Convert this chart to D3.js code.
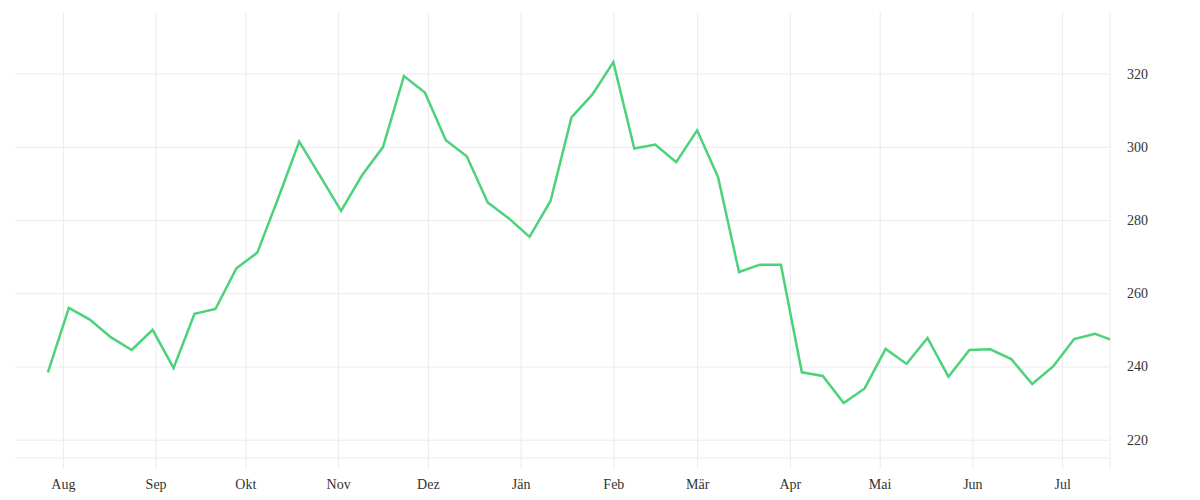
<!DOCTYPE html>
<html>
<head>
<meta charset="utf-8">
<script src="https://cdn.jsdelivr.net/npm/d3@7"></script>
<style>
  html, body { margin: 0; padding: 0; background: #fff; }
  svg { display: block; }
  .tick text { font-family: "Liberation Serif", serif; font-size: 14px; fill: #333; }
</style>
</head>
<body>
<svg id="chart" width="1200" height="500"></svg>
<script>
// ---- data ----
const dates = [
  "2022-07-27","2022-08-03","2022-08-10","2022-08-17","2022-08-24","2022-08-31",
  "2022-09-07","2022-09-14","2022-09-21","2022-09-28","2022-10-05","2022-10-12",
  "2022-10-19","2022-10-26","2022-11-02","2022-11-09","2022-11-16","2022-11-23",
  "2022-11-30","2022-12-07","2022-12-14","2022-12-21","2022-12-28","2023-01-04",
  "2023-01-11","2023-01-18","2023-01-25","2023-02-01","2023-02-08","2023-02-15",
  "2023-02-22","2023-03-01","2023-03-08","2023-03-15","2023-03-22","2023-03-29",
  "2023-04-05","2023-04-12","2023-04-19","2023-04-26","2023-05-03","2023-05-10",
  "2023-05-17","2023-05-24","2023-05-31","2023-06-07","2023-06-14","2023-06-21",
  "2023-06-28","2023-07-05","2023-07-12","2023-07-17"
];
const values = [
  238.4, 256.0, 252.8, 248.0, 244.5, 250.0,
  239.6, 254.4, 255.7, 266.8, 271.1, 286.0,
  301.4, 292.0, 282.5, 292.2, 299.9, 319.3,
  314.8, 301.8, 297.4, 284.8, 280.5, 275.4,
  285.2, 308.0, 314.3, 323.1, 299.5, 300.6,
  295.8, 304.5, 291.7, 265.8, 267.8, 267.8,
  238.4, 237.4, 230.0, 234.0, 244.8, 240.7,
  247.8, 237.2, 244.5, 244.7, 242.0, 235.2,
  240.0, 247.5, 248.9, 247.4
];
const monthTicks = ["2022-08-01","2022-09-01","2022-10-01","2022-11-01","2022-12-01","2023-01-01",
                    "2023-02-01","2023-03-01","2023-04-01","2023-05-01","2023-06-01","2023-07-01"];
const monthLabels = ["Aug","Sep","Okt","Nov","Dez","Jän","Feb","Mär","Apr","Mai","Jun","Jul"];
const yTicks = [220, 240, 260, 280, 300, 320];
const xDomain = ["2022-07-16", "2023-07-17"];
const yDomain = [215, 336.8];

// ---- layout ----
const mLeft = 15, mRight = 1110, mTop = 12, mBottom = 458, tickBottom = 469;
const parse = d3.timeParse("%Y-%m-%d");
const data = dates.map((d, i) => ({ date: parse(d), value: values[i] }));

const x = d3.scaleTime().domain(xDomain.map(parse)).range([mLeft, mRight]);
const y = d3.scaleLinear().domain(yDomain).range([mBottom, mTop]);

const svg = d3.select("#chart");
const gridColor = "#ebebeb";

// y grid + labels
const yAxis = d3.axisRight(y)
  .tickValues(yTicks)
  .tickSizeInner(-(mRight - mLeft))
  .tickSizeOuter(0)
  .tickPadding(17)
  .tickFormat(d3.format("d"));
const gy = svg.append("g").attr("transform", `translate(${mRight},0)`).call(yAxis);
gy.select(".domain").remove();
gy.selectAll(".tick line").attr("stroke", gridColor);
gy.selectAll(".tick text").attr("text-anchor", "start");

// bottom baseline
svg.append("line")
  .attr("x1", mLeft).attr("x2", mRight)
  .attr("y1", mBottom).attr("y2", mBottom)
  .attr("stroke", gridColor);

// x grid + labels
const tickDates = monthTicks.map(parse);
const xAxis = d3.axisBottom(x)
  .tickValues(tickDates)
  .tickSizeInner(-(tickBottom - mTop))
  .tickSizeOuter(0)
  .tickPadding(10)
  .tickFormat((d, i) => monthLabels[i]);
const gx = svg.append("g").attr("transform", `translate(0,${tickBottom})`).call(xAxis);
gx.select(".domain").remove();
gx.selectAll(".tick line").attr("stroke", gridColor);

// right edge line
svg.append("line")
  .attr("x1", mRight).attr("x2", mRight)
  .attr("y1", mTop).attr("y2", tickBottom)
  .attr("stroke", gridColor);

// series line
const line = d3.line().x(d => x(d.date)).y(d => y(d.value));
svg.append("path")
  .datum(data)
  .attr("d", line)
  .attr("fill", "none")
  .attr("stroke", "#4cd27b")
  .attr("stroke-width", 2.5)
  .attr("stroke-linejoin", "miter");
</script>
</body>
</html>
